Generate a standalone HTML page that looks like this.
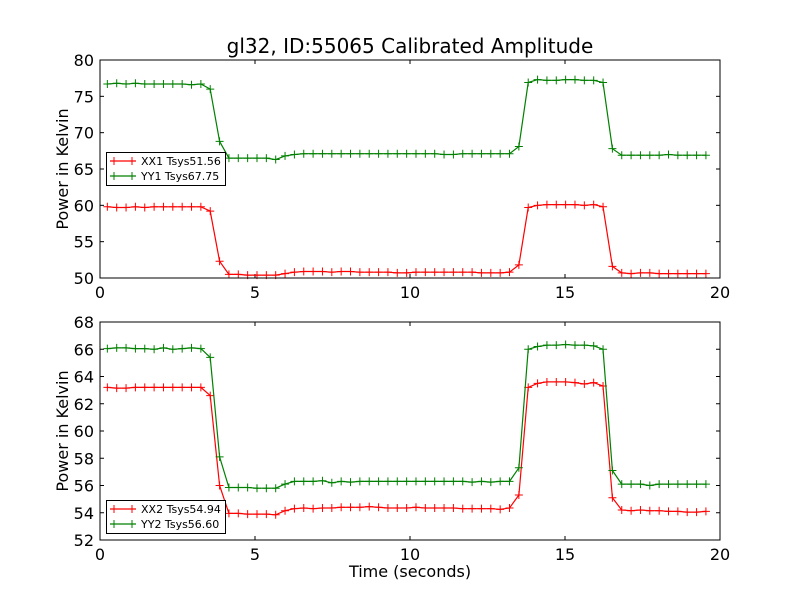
<!DOCTYPE html>
<html><head><meta charset="utf-8"><style>
body{margin:0;background:#fff}
svg text{font-family:"DejaVu Sans","Liberation Sans",sans-serif;fill:#000}
</style></head><body>
<svg id="c" width="800" height="600" xmlns="http://www.w3.org/2000/svg">
<rect width="800" height="600" fill="#fff"/>
<text x="410" y="53" font-size="20" text-anchor="middle">gl32, ID:55065 Calibrated Amplitude</text>
</svg>
<script>
const tickX=[0,5,10,15,20];
const ticksTop=[50,55,60,65,70,75,80];
const ticksBot=[52,54,56,58,60,62,64,66,68];
const XX1=[59.8,59.7,59.7,59.8,59.7,59.8,59.8,59.8,59.8,59.8,59.8,59.2,52.3,50.5,50.5,50.4,50.4,50.4,50.4,50.6,50.8,50.9,50.9,50.9,50.8,50.9,50.9,50.8,50.8,50.8,50.8,50.7,50.7,50.8,50.8,50.8,50.8,50.8,50.8,50.8,50.7,50.7,50.7,50.8,51.8,59.7,60.0,60.1,60.1,60.1,60.1,60.0,60.1,59.8,51.6,50.7,50.6,50.7,50.7,50.6,50.6,50.6,50.6,50.6,50.6];
const YY1=[76.7,76.8,76.7,76.8,76.7,76.7,76.7,76.7,76.7,76.6,76.7,76.0,68.8,66.5,66.5,66.5,66.5,66.5,66.3,66.8,67.0,67.1,67.1,67.1,67.1,67.1,67.1,67.1,67.1,67.1,67.1,67.1,67.1,67.1,67.1,67.1,67.0,67.0,67.1,67.1,67.1,67.1,67.1,67.1,68.1,76.9,77.3,77.2,77.2,77.3,77.3,77.2,77.2,76.9,67.8,66.9,66.9,66.9,66.9,66.9,67.0,66.9,66.9,66.9,66.9];
const XX2=[63.2,63.15,63.15,63.2,63.2,63.2,63.2,63.2,63.2,63.2,63.2,62.6,56.0,53.95,53.95,53.9,53.9,53.9,53.85,54.15,54.3,54.35,54.3,54.35,54.35,54.4,54.4,54.4,54.45,54.4,54.35,54.35,54.35,54.4,54.35,54.35,54.35,54.35,54.3,54.3,54.3,54.3,54.25,54.35,55.3,63.2,63.5,63.6,63.6,63.6,63.55,63.45,63.55,63.3,55.1,54.2,54.15,54.2,54.15,54.15,54.1,54.1,54.05,54.05,54.1];
const YY2=[66.05,66.1,66.1,66.05,66.05,66.0,66.1,66.0,66.05,66.1,66.05,65.4,58.1,55.85,55.85,55.85,55.8,55.8,55.8,56.1,56.3,56.3,56.3,56.35,56.2,56.3,56.25,56.3,56.3,56.3,56.3,56.3,56.3,56.3,56.3,56.3,56.3,56.3,56.3,56.25,56.3,56.25,56.3,56.3,57.3,66.0,66.2,66.3,66.3,66.35,66.3,66.3,66.25,66.0,57.1,56.1,56.1,56.1,56.0,56.1,56.1,56.1,56.1,56.1,56.1];
const T0=0.237, DT=0.3017;
const NS="http://www.w3.org/2000/svg";
const svg=document.getElementById('c');
function mk(tag,attrs,parent){const e=document.createElementNS(NS,tag);for(const k in attrs)e.setAttribute(k,attrs[k]);(parent||svg).appendChild(e);return e;}
const L=100,R=720;
const sx=t=>L+(t-0)/(20-0)*(R-L);
function panel(top,bot,ymin,ymax,yt,series,labels,legY,name){
  const sy=v=>bot-(v-ymin)/(ymax-ymin)*(bot-top);
  const g=mk('g',{});
  
  
  tickX.forEach(v=>{
    const x=sx(v);
    const t1=mk('line',{x1:x,x2:x,y1:bot,y2:bot-4,stroke:'#000'},g);
    
    
    mk('line',{x1:x,x2:x,y1:top,y2:top+4,stroke:'#000'},g);
    const tx=mk('text',{x:x,y:bot+20,'font-size':16,'text-anchor':'middle'},g);
    tx.textContent=v;
    
    
  });
  yt.forEach(v=>{
    const y=sy(v);
    const t1=mk('line',{x1:L,x2:L+4,y1:y,y2:y,stroke:'#000'},g);
    
    
    mk('line',{x1:R,x2:R-4,y1:y,y2:y,stroke:'#000'},g);
    const tx=mk('text',{x:L-6,y:y+6,'font-size':16,'text-anchor':'end'},g);
    tx.textContent=v;
    
    
  });
  series.forEach((s,si)=>{
    const col=si===0?'#ff0000':'#008000';
    const pts=s.map((v,i)=>sx(T0+i*DT).toFixed(1)+','+sy(v).toFixed(1)).join(' ');
    const pl=mk('polyline',{points:pts,fill:'none',stroke:col,'stroke-width':1.2},g);
    
    
    let d='';
    s.forEach((v,i)=>{const x=sx(T0+i*DT),y=sy(v);d+=`M${x-4},${y}h8M${x},${y-4}v8`;});
    const m=mk('path',{d:d,stroke:col,'stroke-width':1},g);
    
    
  });
  const fr=mk('rect',{x:L,y:top,width:R-L,height:bot-top,fill:'none',stroke:'#000','stroke-width':1},g);
  
  
  const yl=mk('text',{x:0,y:0,'font-size':16,'text-anchor':'middle',transform:`translate(68,${(top+bot)/2}) rotate(-90)`},g);
  yl.textContent='Power in Kelvin';
  
  
  const lg=mk('g',{},g);
  
  
  mk('rect',{x:106.5,y:legY+0.5,width:119,height:33,fill:'#fff',stroke:'#000'},lg);
  labels.forEach((lab,i)=>{
    const col=i===0?'#ff0000':'#008000';
    const y=legY+9+i*15;
    const e=mk('g',{},lg);
    
    
    mk('line',{x1:110,x2:136,y1:y,y2:y,stroke:col,'stroke-width':1.2},e);
    mk('path',{d:`M114,${y}h0M111,${y}h6M114,${y-4}v8M132,${y-4}v8`,stroke:col},e);
    const t=mk('text',{x:141,y:y+4,'font-size':11},e);
    t.textContent=lab;
  });
}
panel(60,278,50,80,ticksTop,[XX1,YY1],['XX1 Tsys51.56','YY1 Tsys67.75'],152,'top-panel');
panel(322,540,52,68,ticksBot,[XX2,YY2],['XX2 Tsys54.94','YY2 Tsys56.60'],500,'bottom-panel');
const xl=mk('text',{x:410,y:577,'font-size':16,'text-anchor':'middle'});
xl.textContent='Time (seconds)';


</script>
</body></html>
